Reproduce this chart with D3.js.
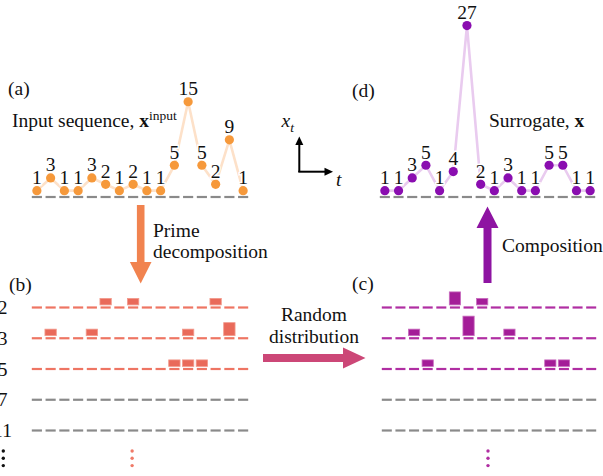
<!DOCTYPE html>
<html>
<head>
<meta charset="utf-8">
<script src="https://cdn.jsdelivr.net/npm/d3@7/dist/d3.min.js"></script>
<style>
  html, body { margin: 0; padding: 0; background: #fff; }
  svg { display: block; font-family: "Liberation Serif", "DejaVu Serif", serif; }
</style>
</head>
<body>
<svg id="fig" width="603" height="476"></svg>
<script>
// Input sequence and its surrogate (same prime-exponent totals, redistributed)
const inputSeq = [1, 3, 1, 1, 3, 2, 1, 2, 1, 1, 5, 15, 5, 2, 9, 1];
const surrogateSeq = [1, 1, 3, 5, 1, 4, 27, 2, 1, 3, 1, 1, 5, 5, 1, 1];
const primes = [2, 3, 5, 7, 11];
const primeLabels = ["2", "3", "5", "7", "11"];

// exponent of prime p in n
function expOf(n, p) { let e = 0; while (n % p === 0 && n > 1) { n /= p; e++; } return e; }
function decompose(seq) {
  const cells = [];
  primes.forEach(p => seq.forEach((v, i) => {
    const e = expOf(v, p);
    if (e > 0) cells.push({ p, i, e });
  }));
  return cells;
}

const svg = d3.select("#fig");
const FS = 19.5;
const idx = d3.range(inputSeq.length);

const xA = d3.scaleBand().domain(idx).range([30, 250]);
const xD = d3.scaleBand().domain(idx).range([378, 597]);
const xB = d3.scaleBand().domain(idx).range([30, 250]);
const xC = d3.scaleBand().domain(idx).range([380, 598]);
const y = d3.scaleLinear().domain([0, 27]).range([197, 197 - 6.35 * 27]);
const rowY = d3.scalePoint().domain(primes).range([307.5, 430.5]);
const barH = d3.scaleLinear().domain([0, 1]).range([0, 6.5]);

// dashed baseline: one short segment per slot
function dashes(g, x, yy, color) {
  g.selectAll(null).data(idx).join("line")
    .attr("x1", i => x(i) + 1.8).attr("x2", i => x(i) + x.bandwidth() - 1.8)
    .attr("y1", yy).attr("y2", yy)
    .attr("stroke", color).attr("stroke-width", 2.2);
}

// sequence panel: pale connecting line, dots, value labels
function seqPanel(seq, x, lineColor, dotColor) {
  const g = svg.append("g");
  dashes(g, x, y(0), "#8a8a8a");
  const cx = i => x(i) + x.bandwidth() / 2;
  g.append("path")
    .attr("d", d3.line().x((d, i) => cx(i)).y(d => y(d))(seq))
    .attr("fill", "none").attr("stroke", lineColor).attr("stroke-width", 2.6);
  g.selectAll("text.v").data(seq).join("text").attr("class", "v")
    .attr("x", (d, i) => cx(i)).attr("y", d => y(d) - 6.5)
    .attr("text-anchor", "middle").attr("font-size", FS)
    .attr("stroke", "#fff").attr("stroke-width", 3).attr("paint-order", "stroke")
    .attr("fill", "#111").text(d => d);
  g.selectAll("circle").data(seq).join("circle")
    .attr("cx", (d, i) => cx(i)).attr("cy", d => y(d)).attr("r", 4.6)
    .attr("fill", dotColor);
}

seqPanel(inputSeq, xA, "#fde1c9", "#f6993b");
seqPanel(surrogateSeq, xD, "#e9cbef", "#8a0db0");

// exponent panels
function expPanel(seq, x, color, barColor, edge) {
  const g = svg.append("g");
  primes.forEach((p, k) => dashes(g, x, rowY(p), k < 3 ? color : "#8a8a8a"));
  g.selectAll("rect").data(decompose(seq)).join("rect")
    .attr("x", d => x(d.i) + 1.2).attr("width", x.bandwidth() - 2.4)
    .attr("y", d => rowY(d.p) - 2.6 - barH(d.e)).attr("height", d => barH(d.e))
    .attr("fill", barColor).attr("stroke", edge).attr("stroke-width", 0.8);
}
expPanel(inputSeq, xB, "#ee7563", "#e96a5a", "#f29a8c");
expPanel(surrogateSeq, xC, "#b02ea2", "#a41d98", "#c86cbe");

// prime row labels
svg.selectAll("text.p").data(primes).join("text").attr("class", "p")
  .attr("x", 2.5).attr("y", p => rowY(p) + 6.5)
  .attr("text-anchor", "middle").attr("font-size", FS).attr("fill", "#111")
  .text((p, i) => primeLabels[i]);

// vertical ellipses
function vdots(x, color) {
  svg.selectAll(null).data([0, 1, 2]).join("circle")
    .attr("cx", x).attr("cy", k => 451 + k * 7.3).attr("r", 1.7).attr("fill", color);
}
vdots(3.3, "#111");
vdots(xB(7) + xB.bandwidth() / 2 - 1, "#ef7a68");
vdots((xC.range()[0] + xC.range()[1]) / 2 - 1, "#b02ea2");

// panel letters and titles
function txt(x, yy, s, opts = {}) {
  return svg.append("text").attr("x", x).attr("y", yy).attr("font-size", opts.size || FS)
    .attr("text-anchor", opts.anchor || "start").attr("fill", "#111").text(s);
}
txt(8, 95, "(a)");
txt(352, 97, "(d)");
txt(9, 291, "(b)");
txt(352, 290, "(c)");

const t1 = svg.append("text").attr("x", 12).attr("y", 127).attr("font-size", FS).attr("fill", "#111");
t1.append("tspan").text("Input sequence, ");
t1.append("tspan").attr("font-weight", "bold").text("x");
t1.append("tspan").attr("font-size", 13.5).attr("dy", -7).text("input");

const t2 = svg.append("text").attr("x", 489).attr("y", 127).attr("font-size", FS).attr("fill", "#111");
t2.append("tspan").text("Surrogate, ");
t2.append("tspan").attr("font-weight", "bold").text("x");

// arrow labels
txt(153, 237, "Prime");
txt(153, 258, "decomposition");
txt(314, 321, "Random", { anchor: "middle" });
txt(314, 343, "distribution", { anchor: "middle" });
txt(502, 252, "Composition");

// block arrows
const poly = pts => svg.append("polygon").attr("points", pts.map(p => p.join(",")).join(" "));
const ax = (xA.range()[0] + xA.range()[1]) / 2 + 0.7;
poly([[ax - 3.8, 205], [ax + 3.8, 205], [ax + 3.8, 262], [ax + 10.8, 262], [ax, 283.5],
      [ax - 10.8, 262], [ax - 3.8, 262]]).attr("fill", "#f1834f");
poly([[263, 354], [343, 354], [343, 347.5], [365.5, 358], [343, 368.5], [343, 362], [263, 362]])
  .attr("fill", "#cc4777");
const px = (xD.range()[0] + xD.range()[1]) / 2;
poly([[px - 4, 283], [px + 4, 283], [px + 4, 228], [px + 11, 228], [px, 206.5],
      [px - 11, 228], [px - 4, 228]]).attr("fill", "#8e14a2");

// small x_t / t axes glyph
const g0 = svg.append("g").attr("stroke", "#000").attr("stroke-width", 2);
g0.append("line").attr("x1", 299.3).attr("y1", 172).attr("x2", 299.3).attr("y2", 143);
g0.append("line").attr("x1", 298.3).attr("y1", 171.7).attr("x2", 326).attr("y2", 171.7);
svg.append("polygon").attr("points", "299.3,136.5 295.3,145 303.3,145").attr("fill", "#000");
svg.append("polygon").attr("points", "333,171.7 324.5,167.7 324.5,175.7").attr("fill", "#000");
const xt = svg.append("text").attr("x", 281.5).attr("y", 127).attr("font-size", FS)
  .attr("font-style", "italic").attr("fill", "#111");
xt.append("tspan").text("x");
xt.append("tspan").attr("font-size", 13.5).attr("dy", 5).text("t");
svg.append("text").attr("x", 336).attr("y", 186).attr("font-size", FS)
  .attr("font-style", "italic").attr("fill", "#111").text("t");
</script>
</body>
</html>
